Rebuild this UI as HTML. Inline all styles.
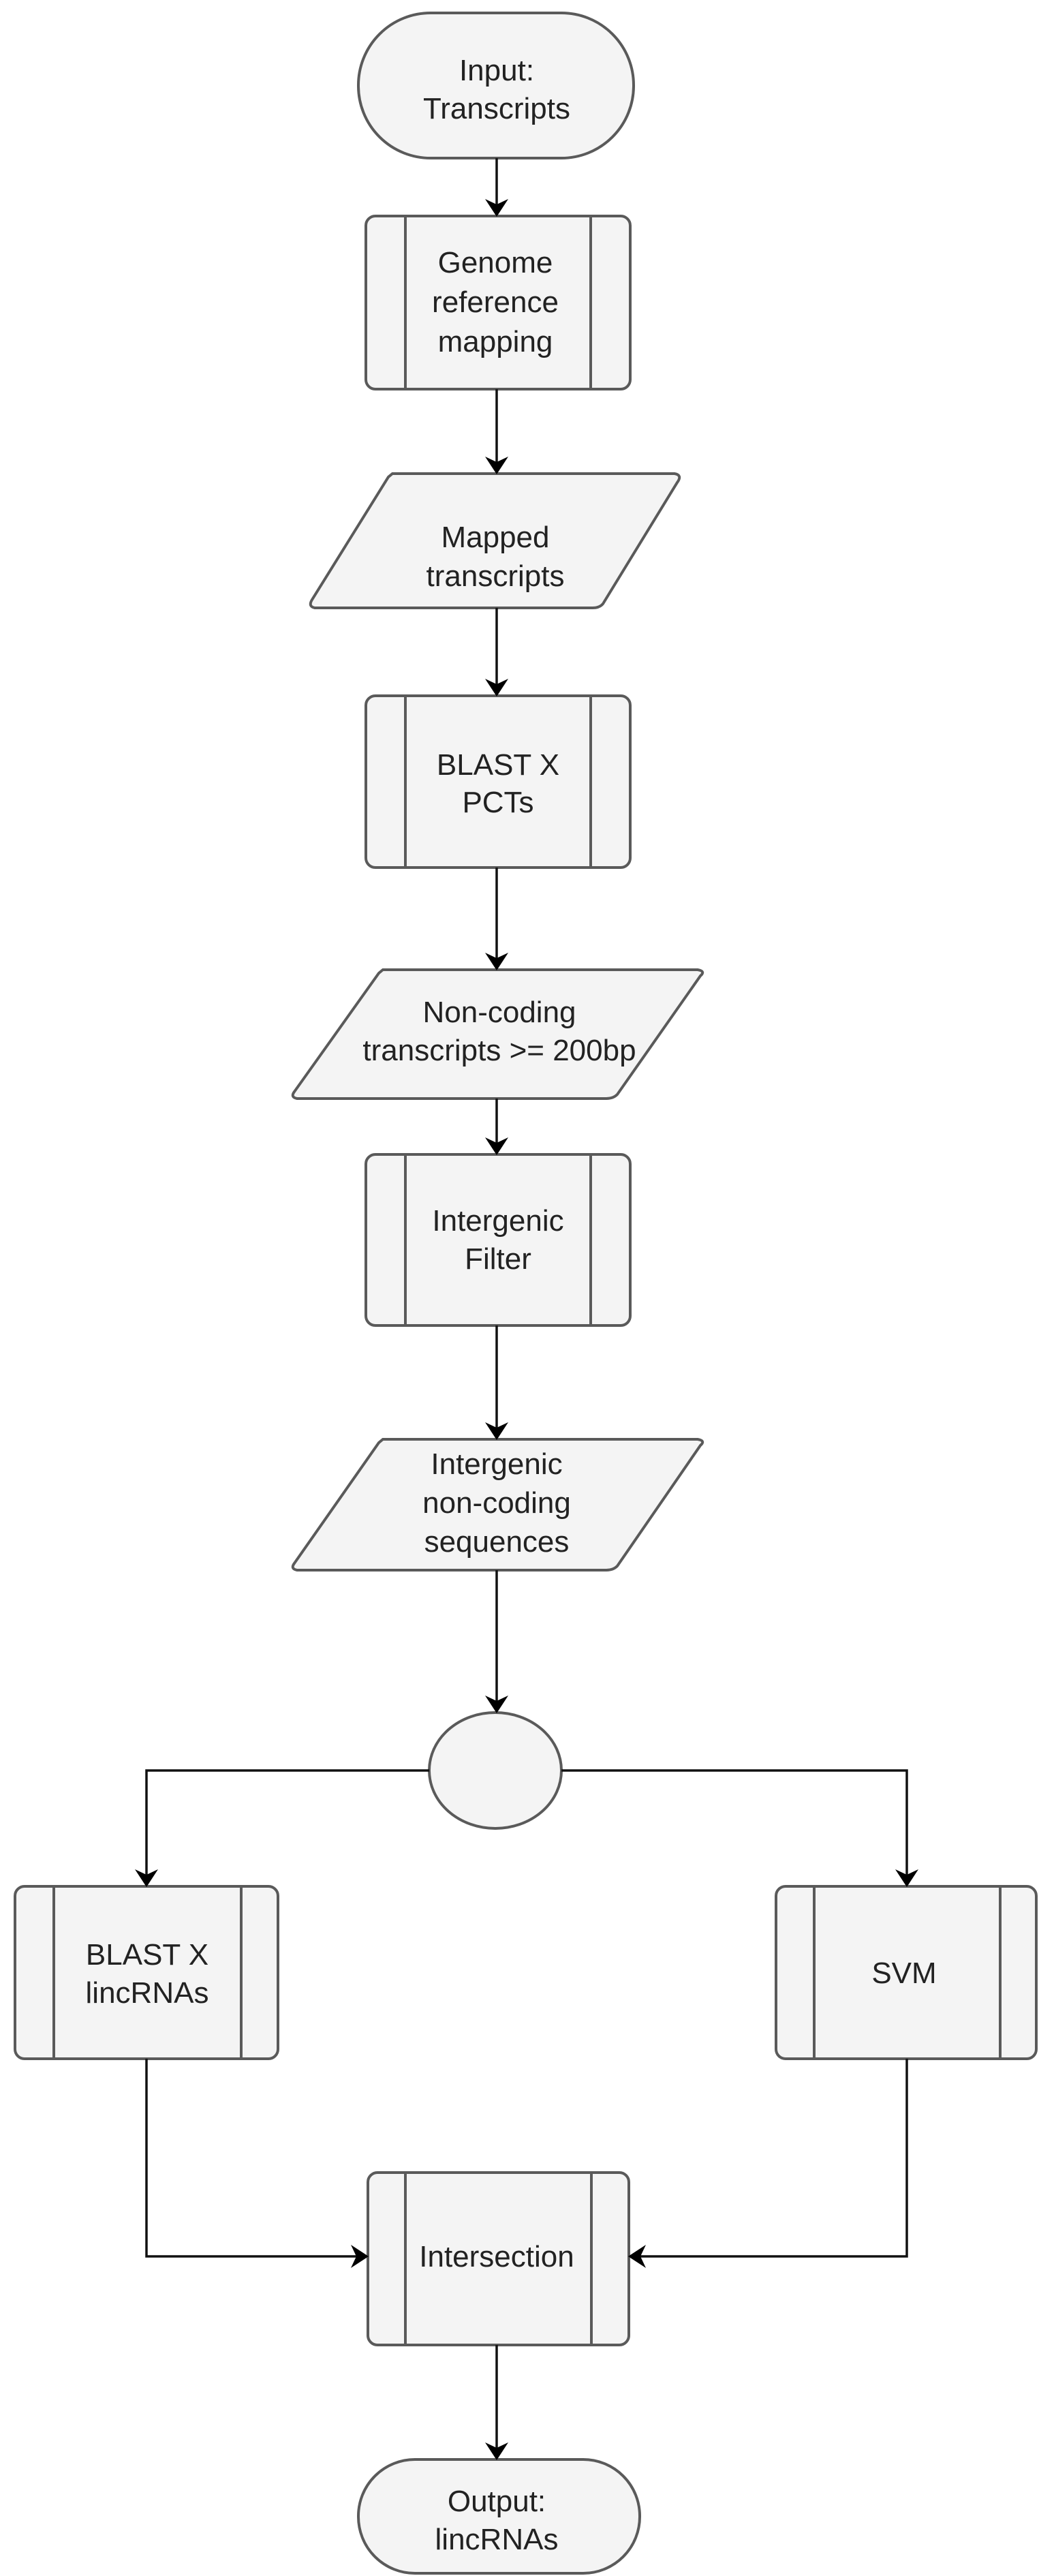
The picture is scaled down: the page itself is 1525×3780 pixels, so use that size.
<!DOCTYPE html>
<html><head><meta charset="utf-8"><style>
html,body{margin:0;padding:0;background:#fff;}
svg{display:block;}
text{font-family:"Liberation Sans",sans-serif;font-size:44px;fill:#222;text-anchor:middle;}
</style></head><body>
<svg width="1525" height="3780" viewBox="0 0 1525 3780" xmlns="http://www.w3.org/2000/svg">
<g fill="#f4f4f4" stroke="#5a5a5a" stroke-width="4">
<rect x="526" y="19" width="404" height="213" rx="106" ry="106"/>
<rect x="537" y="317" width="388" height="254" rx="14"/>
<line x1="595" y1="317" x2="595" y2="571"/><line x1="867" y1="317" x2="867" y2="571"/>
<path d="M576 695 L990 695 Q1002 697 994 708 L885 886 Q880 892 870 892 L462 892 Q452 890 458 880 L570 700 Z"/>
<rect x="537" y="1021" width="388" height="252" rx="14"/>
<line x1="595" y1="1021" x2="595" y2="1273"/><line x1="867" y1="1021" x2="867" y2="1273"/>
<path d="M562 1423 L1024 1423 Q1036 1425 1028 1432 L906 1606 Q900 1612 890 1612 L436 1612 Q426 1610 432 1602 L556 1428 Z"/>
<rect x="537" y="1694" width="388" height="251" rx="14"/>
<line x1="595" y1="1694" x2="595" y2="1945"/><line x1="867" y1="1694" x2="867" y2="1945"/>
<path d="M562 2112 L1024 2112 Q1036 2114 1028 2121 L906 2298 Q900 2304 890 2304 L436 2304 Q426 2302 432 2294 L556 2117 Z"/>
<ellipse cx="727" cy="2598" rx="97" ry="85"/>
<rect x="22" y="2768" width="386" height="253" rx="14"/>
<line x1="79" y1="2768" x2="79" y2="3021"/><line x1="354" y1="2768" x2="354" y2="3021"/>
<rect x="1139" y="2768" width="382" height="253" rx="14"/>
<line x1="1195" y1="2768" x2="1195" y2="3021"/><line x1="1468" y1="2768" x2="1468" y2="3021"/>
<rect x="540" y="3188" width="383" height="253" rx="14"/>
<line x1="595" y1="3188" x2="595" y2="3441"/><line x1="868" y1="3188" x2="868" y2="3441"/>
<rect x="526" y="3609" width="413" height="167" rx="83" ry="83"/>
</g>
<g stroke="#111" stroke-width="3.5" fill="none">
<line x1="729" y1="232" x2="729" y2="300"/>
<line x1="729" y1="571" x2="729" y2="678"/>
<line x1="729" y1="892" x2="729" y2="1004"/>
<line x1="729" y1="1273" x2="729" y2="1406"/>
<line x1="729" y1="1612" x2="729" y2="1677"/>
<line x1="729" y1="1945" x2="729" y2="2095"/>
<line x1="729" y1="2304" x2="729" y2="2496"/>
<polyline points="630,2598 215,2598 215,2751"/>
<polyline points="824,2598 1331,2598 1331,2751"/>
<polyline points="215,3021 215,3311 523,3311"/>
<polyline points="1331,3021 1331,3311 940,3311"/>
<line x1="729" y1="3441" x2="729" y2="3592"/>
</g>
<g fill="#000">
<path d="M712 292 L729 300 L746 292 L729 318 Z"/>
<path d="M712 670 L729 678 L746 670 L729 696 Z"/>
<path d="M712 996 L729 1004 L746 996 L729 1022 Z"/>
<path d="M712 1398 L729 1406 L746 1398 L729 1424 Z"/>
<path d="M712 1669 L729 1677 L746 1669 L729 1695 Z"/>
<path d="M712 2087 L729 2095 L746 2087 L729 2113 Z"/>
<path d="M712 2488 L729 2496 L746 2488 L729 2514 Z"/>
<path d="M198 2743 L215 2751 L232 2743 L215 2769 Z"/>
<path d="M1314 2743 L1331 2751 L1348 2743 L1331 2769 Z"/>
<path d="M515 3294 L523 3311 L515 3328 L541 3311 Z"/>
<path d="M948 3294 L940 3311 L948 3328 L922 3311 Z"/>
<path d="M712 3584 L729 3592 L746 3584 L729 3610 Z"/>
</g>
<text x="729" y="118">Input:</text>
<text x="729" y="174">Transcripts</text>
<text x="727" y="400">Genome</text>
<text x="727" y="458">reference</text>
<text x="727" y="516">mapping</text>
<text x="727" y="803">Mapped</text>
<text x="727" y="860">transcripts</text>
<text x="731" y="1137">BLAST X</text>
<text x="731" y="1192">PCTs</text>
<text x="733" y="1500">Non-coding</text>
<text x="733" y="1556">transcripts &gt;= 200bp</text>
<text x="731" y="1806">Intergenic</text>
<text x="731" y="1862">Filter</text>
<text x="729" y="2163">Intergenic</text>
<text x="729" y="2220">non-coding</text>
<text x="729" y="2277">sequences</text>
<text x="216" y="2883">BLAST X</text>
<text x="216" y="2939">lincRNAs</text>
<text x="1327" y="2910">SVM</text>
<text x="729" y="3326">Intersection</text>
<text x="729" y="3685">Output:</text>
<text x="729" y="3741">lincRNAs</text>
</svg>
</body></html>
